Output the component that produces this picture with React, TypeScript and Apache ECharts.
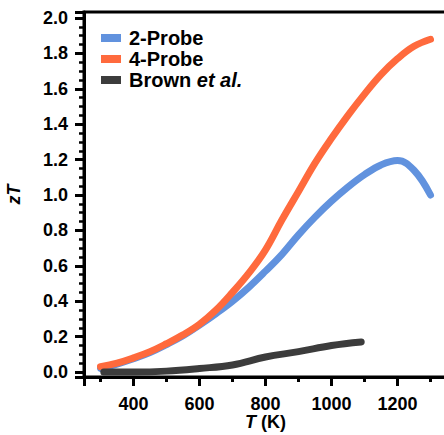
import React, { useEffect, useRef } from "react";
import * as echarts from "echarts";

const temps = [300, 350, 400, 450, 500, 550, 600, 650, 700, 750, 800, 850, 900, 950, 1000, 1050, 1100, 1150, 1200, 1250, 1300];
const twoProbe = [0.02, 0.045, 0.075, 0.11, 0.155, 0.205, 0.265, 0.33, 0.4, 0.48, 0.57, 0.665, 0.775, 0.875, 0.965, 1.045, 1.115, 1.17, 1.195, 1.14, 1.0];
const fourProbe = [0.03, 0.05, 0.08, 0.115, 0.16, 0.21, 0.27, 0.35, 0.45, 0.56, 0.69, 0.86, 1.02, 1.18, 1.32, 1.45, 1.57, 1.68, 1.77, 1.84, 1.88];
const brownT = [310, 400, 500, 600, 700, 800, 900, 1000, 1090];
const brownZ = [0.0, 0.0, 0.005, 0.02, 0.04, 0.085, 0.115, 0.15, 0.17];
const seriesNames = ["2-Probe", "4-Probe", "Brown et al."];
const colors = ["#6192DE", "#FF6A3D", "#3C3C3C"];

const FONT = "'Liberation Sans', Arial, sans-serif";

export default function App() {
  const ref = useRef<HTMLDivElement>(null);
  useEffect(() => {
    document.body.style.margin = "0";
    const chart = echarts.init(ref.current!, null, { renderer: "svg" });
    const pair = (xs: number[], ys: number[]) => xs.map((x, i) => [x, ys[i]]);
    const lineSeries = (name: string, data: number[][], color: string) => ({
      name,
      type: "line",
      data,
      smooth: 0.4,
      showSymbol: false,
      symbol: "none",
      lineStyle: { color, width: 7, cap: "round", join: "round" },
      itemStyle: { color },
    });
    chart.setOption({
      animation: false,
      grid: {
        left: 84,
        right: -3,
        top: 12,
        bottom: 58,
        show: true,
        borderColor: "#000",
        borderWidth: 3,
        backgroundColor: "transparent",
        containLabel: false,
        outerBoundsMode: "none",
      },
      legend: {
        orient: "vertical",
        left: 101,
        top: 28,
        padding: 0,
        icon: "rect",
        itemWidth: 20,
        itemHeight: 8,
        itemGap: 1,
        data: seriesNames,
        formatter: (n: string) => (n === "Brown et al." ? "{b|Brown }{i|et al.}" : "{b|" + n + "}"),
        textStyle: {
          padding: [0, 0, 0, 3],
          rich: {
            b: { fontFamily: FONT, fontWeight: "bold", fontSize: 20, color: "#000" },
            i: { fontFamily: FONT, fontWeight: "bold", fontStyle: "italic", fontSize: 20, color: "#000" },
          },
        },
      },
      xAxis: {
        type: "value",
        min: 250,
        max: 1350,
        splitNumber: 5,
        axisLine: { show: true, onZero: false, lineStyle: { color: "#000", width: 3 } },
        axisTick: { show: true, inside: false, length: 9, lineStyle: { color: "#000", width: 3 } },
        minorTick: { show: true, splitNumber: 2, length: 5, lineStyle: { color: "#000", width: 3 } },
        splitLine: { show: false },
        minorSplitLine: { show: false },
        axisLabel: {
          margin: 18,
          fontFamily: FONT,
          fontWeight: "bold",
          fontSize: 18,
          color: "#000",
          formatter: (v: number) => (v % 200 === 0 ? String(v) : ""),
        },
        name: "{i|T} (K)",
        nameLocation: "middle",
        nameGap: 36,
        nameMoveOverlap: false,
        nameTextStyle: {
          fontFamily: FONT,
          fontWeight: "bold",
          fontSize: 18,
          color: "#000",
          rich: {
            i: { fontFamily: FONT, fontWeight: "bold", fontStyle: "italic", fontSize: 18, color: "#000" },
          },
        },
      },
      yAxis: {
        type: "value",
        min: -0.0282,
        max: 2.0339,
        splitNumber: 10,
        axisLine: { show: true, lineStyle: { color: "#000", width: 3 } },
        axisTick: { show: true, inside: false, length: 9, lineStyle: { color: "#000", width: 3 } },
        minorTick: { show: true, splitNumber: 4, length: 5, lineStyle: { color: "#000", width: 2.5 } },
        splitLine: { show: false },
        minorSplitLine: { show: false },
        axisLabel: {
          margin: 16,
          fontFamily: FONT,
          fontWeight: "bold",
          fontSize: 18,
          color: "#000",
          formatter: (v: number) => {
            const k = Math.round(v / 0.2);
            return Math.abs(v - k * 0.2) < 1e-6 && k >= 0 && k <= 10 ? (k * 0.2).toFixed(1) : "";
          },
        },
        name: "zT",
        nameLocation: "middle",
        nameGap: 61,
        nameMoveOverlap: false,
        nameTextStyle: {
          fontFamily: FONT,
          fontWeight: "bold",
          fontStyle: "italic",
          fontSize: 18,
          color: "#000",
        },
      },
      series: [
        lineSeries(seriesNames[0], pair(temps, twoProbe), colors[0]),
        lineSeries(seriesNames[1], pair(temps, fourProbe), colors[1]),
        lineSeries(seriesNames[2], pair(brownT, brownZ), colors[2]),
      ],
    });
    return () => chart.dispose();
  }, []);
  return <div ref={ref} style={{ width: 444, height: 435 }} />;
}
